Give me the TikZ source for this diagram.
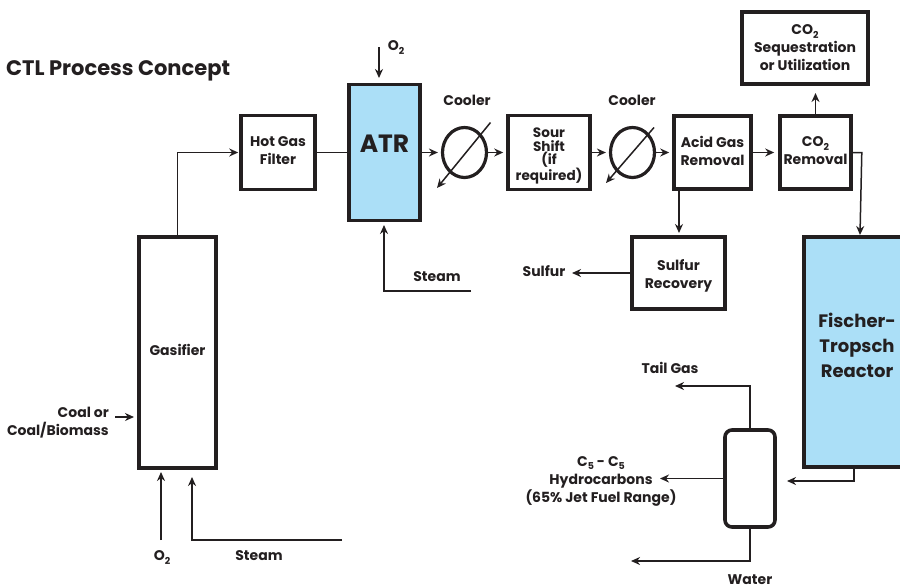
\documentclass[tikz,border=0pt]{standalone}
\usepackage{fontspec}
\setmainfont{Poppins}
\usetikzlibrary{arrows.meta,shapes.geometric}
\definecolor{ink}{HTML}{231F20}
\definecolor{vessel}{HTML}{ABDFF7}
\newcommand{\lowsub}[1]{\smash{\raisebox{-3.5pt}{\fontsize{9.5}{9.5}\selectfont #1}}}
\newcommand{\liftline}{\rule[-3pt]{0pt}{3pt}}
\tikzset{
  unit/.style = {draw=ink, line width=3.6pt, fill=white, align=center, text=ink, font=\bfseries\fontsize{14}{18}\selectfont, inner sep=0pt},
  cooler/.style = {ellipse, draw=ink, line width=3.2pt, fill=white, minimum width=44pt, minimum height=50pt, inner sep=0pt},
  lab/.style = {align=center, text=ink, font=\bfseries\fontsize{14}{18}\selectfont, inner sep=0pt},
  flow/.style = {draw=ink, line width=1.5pt, -{Stealth[length=9pt,width=8pt]}},
  pipe/.style = {draw=ink, line width=1.5pt}
}
\begin{document}
\begin{tikzpicture}[x=1pt, y=-1pt]
  \useasboundingbox (0,0) rectangle (900,587);
  \node [lab, anchor=west, font=\bfseries\fontsize{21}{24}\selectfont] (title) at (6,71) {CTL Process Concept};
  % units:
  \node [unit, minimum width=77pt, minimum height=231pt] (gasifier) at (177.5,352.5) {\raisebox{6pt}{Gasifier}};
  \node [unit, minimum width=74pt, minimum height=74pt] (filter) at (278,152.5) {Hot Gas\\Filter\liftline};
  \node [unit, fill=vessel, minimum width=71pt, minimum height=136pt, font=\bfseries\fontsize{25}{28}\selectfont] (atr) at (384.5,152.5) {\raisebox{18pt}{ATR}};
  \node [unit, minimum width=82pt, minimum height=74pt, font=\bfseries\fontsize{13.6}{13.2}\selectfont] (sour) at (549,152.5) {\rule{0pt}{17pt}Sour\\Shift\\(if\\required)};
  \node [unit, minimum width=77pt, minimum height=73pt] (acid) at (712.5,152.5) {Acid Gas\\Removal\liftline};
  \node [unit, minimum width=71pt, minimum height=73pt] (removal) at (815.5,152.5) {CO\lowsub{2}\\Removal\liftline};
  \node [unit, minimum width=126pt, minimum height=72pt] (storage) at (805,48) {CO\lowsub{2}\\Sequestration\\or Utilization};
  \node [unit, minimum width=93pt, minimum height=72pt] (sulfur) at (678.5,273) {\rule{0pt}{16pt}Sulfur\\Recovery};
  \node [unit, fill=vessel, minimum width=120pt, minimum height=230pt] (reactor) at (864,352) {};
  \node [unit, rounded corners=7pt, minimum width=50pt, minimum height=97pt] (separator) at (750,478.5) {};
  \node [cooler] (coolerA) at (464.5,152.5) {};
  \node [cooler] (coolerB) at (632.5,152.5) {};
  % labels:
  \node [lab, font=\bfseries\fontsize{18}{25}\selectfont] (ftlabel) at (857,345) {Fischer-\\Tropsch\\Reactor};
  \node [lab] (labA) at (467,100) {Cooler};
  \node [lab] (labB) at (632,100) {Cooler};
  \node [lab] (oxyA) at (396,46) {O\lowsub{2}};
  \node [lab] (steamA) at (437,277) {Steam};
  \node [lab] (sulfurout) at (544,271) {Sulfur};
  \node [lab] (tailgas) at (670,368) {Tail Gas};
  \node [lab] (products) at (601,481) {C\lowsub{5} - C\lowsub{5}\\Hydrocarbons\\(65\% Jet Fuel Range)};
  \node [lab] (water) at (750,580) {Water};
  \node [lab, align=right, anchor=east] (coal) at (109,423) {Coal or\\Coal/Biomass};
  \node [lab] (oxyB) at (162,556) {O\lowsub{2}};
  \node [lab] (steamB) at (259,556) {Steam};
  % free ends:
  \coordinate (oxyAin) at (379,47);
  \coordinate (steamAin) at (471,291);
  \coordinate (sulfurend) at (572,273);
  \coordinate (tailend) at (675,386);
  \coordinate (productend) at (660,478.5);
  \coordinate (waterend) at (631,561);
  \coordinate (coalin) at (115,417);
  \coordinate (oxyBin) at (161,540);
  \coordinate (steamBin) at (342,540);
  \coordinate (reactorend) at (787,481);
  % flows along the main line:
  \foreach \from/\to/\gap in {atr/coolerA/3, coolerA/sour/3, sour/coolerB/3, coolerB/acid/3, acid/removal/4} 
    \draw [flow, shorten >=\gap pt] (\from) -- (\to);
  \draw [pipe] (filter) -- (atr);
  \draw [flow] (gasifier.north) |- ([xshift=-1pt]filter.west);
  \draw [flow] (removal.north) -- (removal.north |- 0,93);
  \draw [flow] (removal.east) -- ++(9,0) -- (860,235);
  \draw [flow] (acid.south -| 679,0) -- (679,233);
  \draw [flow] (sulfur.west) -- (sulfurend);
  \draw [flow] (oxyAin) -- (379,78);
  \draw [flow] (steamAin) -| (384,225);
  \draw [flow] (coalin) -- (134,417);
  \draw [flow] (oxyBin) -- (161,472);
  \draw [flow] (steamBin) -| (192,477);
  \draw [flow] (reactor.south -| 854,0) |- (reactorend);
  \draw [flow] (separator.north) |- (tailend);
  \draw [flow] (separator.west) -- (productend);
  \draw [flow] (separator.south) |- (waterend);
  % diagonals through the coolers:
  \draw [flow] (490.5,122.5) -- (437,188);
  \draw [flow] (654,127.5) -- (606,183);
\end{tikzpicture}
\end{document}
